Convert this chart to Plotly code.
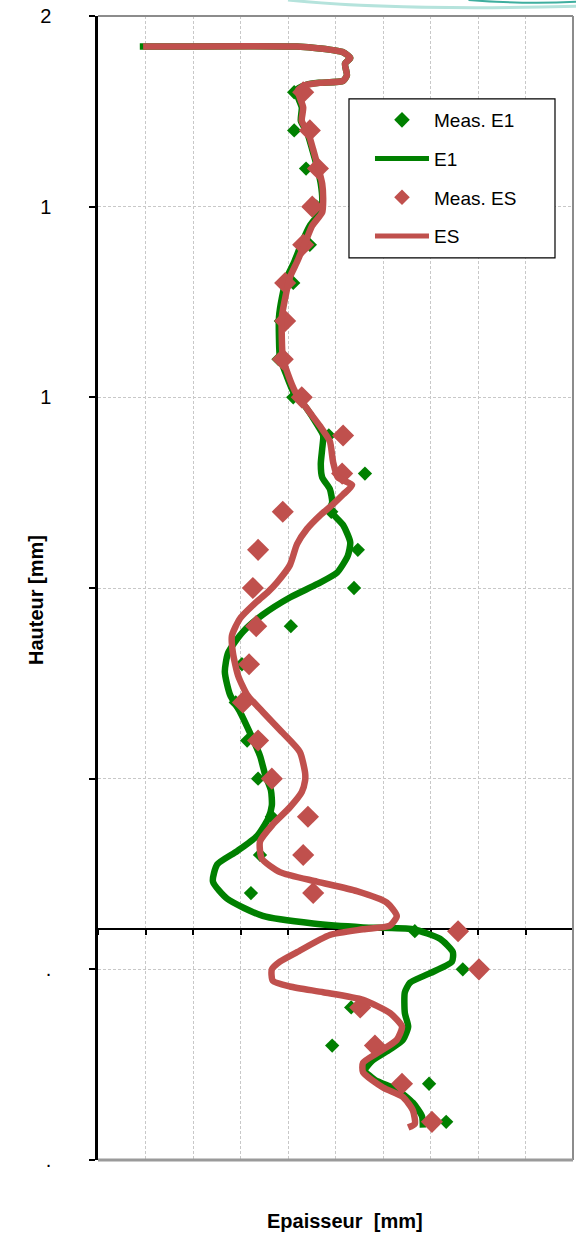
import plotly.graph_objects as go

# ---- data -------------------------------------------------------------
# measurement stations (height), listed from the top of the part downwards
meas_height = [5.6, 5.4, 5.2, 5.0, 4.8, 4.6, 4.4, 4.2, 4.0, 3.8, 3.6, 3.4, 3.2, 3.0,
               2.8, 2.6, 2.4, 2.2, 2.0, 1.8, 1.6, 1.4, 1.2, 1.0, 0.8, 0.6, 0.4, 0.2]
meas_e1 = [4.13, 4.13, 4.38, 4.60, 4.46, 4.11, 3.85, 3.80, 4.11, 4.86, 5.62, 4.91, 5.47, 5.39,
           4.06, 3.03, 2.90, 3.14, 3.37, 3.66, 3.41, 3.22, 6.67, 7.68, 5.33, 4.93, 6.97, 7.33]
meas_es = [4.32, 4.46, 4.63, 4.51, 4.32, 3.94, 3.94, 3.89, 4.29, 5.16, 5.14, 3.89, 3.37, 3.26,
           3.33, 3.18, 3.05, 3.37, 3.66, 4.42, 4.32, 4.53, 7.58, 8.02, 5.52, 5.83, 6.40, 7.03]

# simulated thickness profile E1
e1_x = [0.88, 4.19, 4.67, 5.16, 5.31, 5.20, 5.24, 5.16, 4.67, 4.40, 4.17, 4.29, 4.27, 4.40,
        4.51, 4.61, 4.69, 4.72, 4.67, 4.46, 4.29, 4.13, 3.98, 3.87, 3.81, 3.81, 3.83, 3.96,
        4.11, 4.40, 4.63, 4.74, 4.72, 4.69, 4.72, 4.88, 4.93, 4.88, 5.16, 5.31, 5.26, 5.03,
        4.61, 4.04, 3.47, 3.05, 2.74, 2.67, 2.78, 2.99, 3.20, 3.41, 3.52, 3.64, 3.66, 3.58,
        3.35, 2.93, 2.51, 2.42, 2.72, 3.47, 4.53, 5.58, 6.63, 7.20, 7.47, 7.45, 6.99, 6.57,
        6.46, 6.46, 6.53, 6.42, 6.15, 5.77, 5.62, 5.83, 6.29, 6.63, 6.82, 6.84]
e1_y = [5.84, 5.84, 5.83, 5.81, 5.78, 5.75, 5.69, 5.66, 5.65, 5.64, 5.61, 5.52, 5.45, 5.39,
        5.30, 5.21, 5.12, 5.03, 4.97, 4.90, 4.81, 4.71, 4.63, 4.52, 4.42, 4.31, 4.21, 4.12,
        4.03, 3.94, 3.85, 3.80, 3.73, 3.65, 3.58, 3.52, 3.45, 3.41, 3.33, 3.24, 3.17, 3.08,
        3.02, 2.95, 2.86, 2.77, 2.66, 2.56, 2.44, 2.35, 2.24, 2.12, 2.02, 1.94, 1.86, 1.79,
        1.70, 1.62, 1.55, 1.46, 1.37, 1.28, 1.24, 1.22, 1.21, 1.16, 1.09, 1.04, 0.98, 0.93,
        0.88, 0.77, 0.70, 0.63, 0.58, 0.52, 0.47, 0.42, 0.37, 0.30, 0.23, 0.17]

# simulated thickness profile ES
es_x = [0.95, 4.19, 4.67, 5.16, 5.31, 5.20, 5.24, 5.16, 4.67, 4.40, 4.21, 4.32, 4.29, 4.42,
        4.53, 4.63, 4.72, 4.74, 4.72, 4.51, 4.36, 4.19, 4.04, 3.94, 3.87, 3.87, 3.89, 4.00,
        4.15, 4.40, 4.67, 4.88, 4.95, 5.05, 5.35, 5.16, 4.95, 4.67, 4.40, 4.19, 4.04, 3.77,
        3.58, 3.35, 2.99, 2.82, 2.84, 2.95, 3.14, 3.47, 3.89, 4.25, 4.36, 4.36, 4.29, 4.04,
        3.68, 3.41, 3.45, 3.83, 4.61, 5.45, 6.08, 6.29, 6.15, 5.58, 4.88, 4.19, 3.83, 3.66,
        3.68, 4.04, 4.74, 5.58, 6.15, 6.40, 6.29, 5.94, 5.58, 5.58, 6.00, 6.42, 6.63, 6.67,
        6.53]
es_y = [5.84, 5.84, 5.83, 5.81, 5.78, 5.75, 5.69, 5.66, 5.65, 5.64, 5.61, 5.52, 5.45, 5.39,
        5.30, 5.21, 5.12, 5.03, 4.97, 4.90, 4.81, 4.71, 4.63, 4.52, 4.42, 4.31, 4.21, 4.12,
        4.03, 3.94, 3.85, 3.77, 3.66, 3.58, 3.54, 3.49, 3.44, 3.38, 3.31, 3.23, 3.12, 3.03,
        2.98, 2.93, 2.84, 2.75, 2.66, 2.54, 2.44, 2.35, 2.24, 2.14, 2.03, 1.99, 1.93, 1.85,
        1.76, 1.67, 1.58, 1.51, 1.46, 1.41, 1.35, 1.28, 1.23, 1.21, 1.18, 1.09, 1.04, 1.00,
        0.94, 0.91, 0.88, 0.84, 0.77, 0.70, 0.63, 0.57, 0.51, 0.46, 0.38, 0.33, 0.26, 0.19,
        0.17]

y_tick_vals = [0, 1, 2, 3, 4, 5, 6]
y_tick_text = [".", ".", "", "", "1", "1", "2"]
X_MAX = 10
Y_MAX = 6
AXIS_CROSS = 1.21          # height at which the horizontal axis crosses

GREEN = "#008000"
RED = "#C0504D"
FONT = "Liberation Sans, Arial, sans-serif"

fig = go.Figure()
fig.add_trace(go.Scatter(x=meas_e1, y=meas_height, mode="markers", name="Meas. E1",
                         legendgroup="a",
                         marker=dict(symbol="diamond", size=11, color=GREEN)))
fig.add_trace(go.Scatter(x=e1_x, y=e1_y, mode="lines", name="E1", legendgroup="b",
                         line=dict(color=GREEN, width=6.5, shape="spline", smoothing=0.6)))
fig.add_trace(go.Scatter(x=meas_es, y=meas_height, mode="markers", name="Meas. ES",
                         legendgroup="c",
                         marker=dict(symbol="diamond", size=17, color=RED)))
fig.add_trace(go.Scatter(x=es_x, y=es_y, mode="lines", name="ES", legendgroup="d",
                         line=dict(color=RED, width=6.5, shape="spline", smoothing=0.6)))

grid = dict(showgrid=True, gridcolor="#c8c8c8", gridwidth=1, griddash="3px,2px",
            zeroline=False)

fig.update_xaxes(range=[0, X_MAX], dtick=1, showticklabels=False, ticks="outside",
                 ticklen=5, tickwidth=1.5, tickcolor="black", showline=True,
                 linecolor="black", linewidth=2, anchor="free",
                 position=AXIS_CROSS / Y_MAX, layer="below traces", **grid)
fig.update_yaxes(range=[0, Y_MAX], tickvals=y_tick_vals, ticktext=y_tick_text,
                 ticks="outside", ticklen=6, tickwidth=1.5, tickcolor="black",
                 showline=True, linecolor="black", linewidth=2.5,
                 tickfont=dict(family=FONT, size=20, color="black"),
                 ticklabelstandoff=34, **grid)

shapes = [
    # frame: top, right, bottom
    dict(type="line", xref="paper", yref="paper", x0=0, x1=1, y0=1, y1=1,
         line=dict(color="#8c8c8c", width=2)),
    dict(type="line", xref="paper", yref="paper", x0=1, x1=1, y0=0, y1=1,
         line=dict(color="#8c8c8c", width=2)),
    dict(type="line", xref="paper", yref="paper", x0=0, x1=1, y0=0, y1=0,
         line=dict(color="#9a9a9a", width=3)),
    # legend box
    dict(type="rect", xref="paper", yref="paper", x0=0.5284, x1=0.9621,
         y0=0.7885, y1=0.9275, fillcolor="white", line=dict(color="black", width=1.2),
         layer="above"),
    # decorative swoosh in the upper right corner
    dict(type="path", xref="paper", yref="paper",
         path="M 0.40,1.0140 Q 0.62,1.0045 1.01,1.0085",
         line=dict(color="#b5e3dc", width=3)),
    dict(type="path", xref="paper", yref="paper",
         path="M 0.78,1.0140 Q 0.90,1.0100 1.01,1.0125",
         line=dict(color="#3fae9f", width=2)),
]

annotations = [
    dict(text="<b>Epaisseur  [mm]</b>", xref="paper", yref="paper", x=0.52, y=-0.0533,
         xanchor="center", yanchor="middle", showarrow=False,
         font=dict(family=FONT, size=20, color="black")),
    dict(text="<b>Hauteur [mm]</b>", xref="paper", yref="paper", x=-0.1305, y=0.4895,
         xanchor="center", yanchor="middle", textangle=-90, showarrow=False,
         font=dict(family=FONT, size=20, color="black")),
]

fig.update_layout(
    width=576, height=1234,
    margin=dict(l=98, r=3, t=16, b=74),
    paper_bgcolor="white", plot_bgcolor="white",
    font=dict(family=FONT, color="black"),
    shapes=shapes, annotations=annotations,
    showlegend=True,
    legend=dict(x=0.5726, y=0.9257, xanchor="left", yanchor="top",
                bgcolor="rgba(0,0,0,0)", borderwidth=0,
                font=dict(family=FONT, size=19, color="black"),
                itemwidth=54, itemsizing="constant", tracegroupgap=11),
)

fig.write_html("out.html")
